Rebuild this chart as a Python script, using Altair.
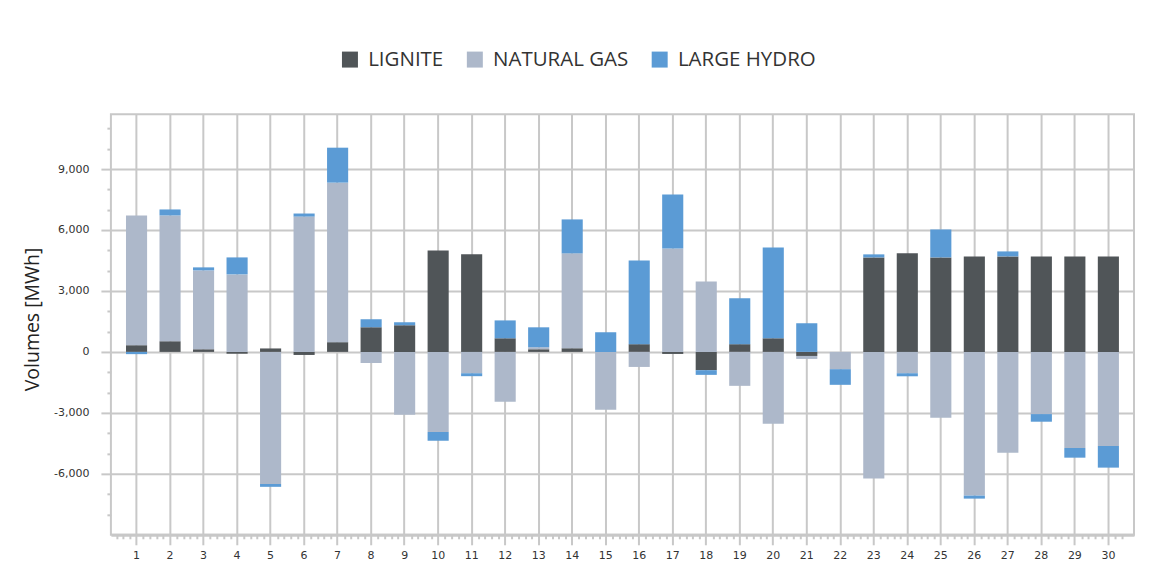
import altair as alt
import pandas as pd

days = list(range(1, 31))
series = ["LIGNITE", "NATURAL GAS", "LARGE HYDRO"]
colors = ["#505558", "#adb8ca", "#5b9bd5"]

lignite = [330, 525, 130, -90, 170, -150, 480, 1210, 1310, 4990,
           4800, 670, 130, 180, 0, 380, -100, -900, 380, 670,
           -200, 0, 4650, 4850, 4650, 4700, 4700, 4700, 4700, 4700]
natural_gas = [6380, 6190, 3880, 3815, -6500, 6660, 7850, -540, -3090, -3940,
               -1050, -2450, 100, 4670, -2850, -740, 5090, 3470, -1670, -3535,
               -145, -850, -6235, -1050, -3240, -7070, -4960, -3060, -4730, -4630]
large_hydro = [-110, 295, 150, 835, -140, 150, 1720, 395, 150, -430,
               -145, 880, 980, 1670, 970, 4120, 2650, -230, 2260, 4470,
               1410, -770, 150, -150, 1375, -150, 245, -375, -475, -1065]

y_major = [-6000, -3000, 0, 3000, 6000, 9000]
y_minor = [v for v in range(-8000, 12000, 1000) if v % 3000 != 0]

rows = []
for i, d in enumerate(days):
    for k, (s, vals) in enumerate(zip(series, [lignite, natural_gas, large_hydro])):
        rows.append({"Day": d, "Series": s, "Value": vals[i], "Order": k})
df = pd.DataFrame(rows)

grid_color = "#c8c8c8"
text_color = "#333333"
po, pi = 0.45, 0.37
off = po + (1 - pi) / 2
qdomain = [1 - off, 30 + off]
x_minor = [round(1 + 0.2 * j, 1) for j in range(-3, 148) if j % 5 != 0]
x_minor = [v for v in x_minor if qdomain[0] < v < qdomain[1]]

ydom = [-9000, 11700]

bars = alt.Chart(df).mark_bar().encode(
    x=alt.X("Day:O",
            scale=alt.Scale(paddingInner=pi, paddingOuter=po),
            axis=alt.Axis(title=None, labelAngle=0, grid=True, gridColor=grid_color,
                          gridWidth=2, ticks=True, tickSize=10, tickColor=grid_color,
                          tickWidth=2, labelPadding=5, domain=True, domainColor=grid_color,
                          domainWidth=3, labelFont="DejaVu Sans", labelFontSize=11,
                          labelColor=text_color)),
    y=alt.Y("Value:Q", stack="zero",
            scale=alt.Scale(domain=ydom, nice=False, zero=False),
            axis=alt.Axis(values=y_major,
                          labelExpr="replace(format(datum.value, ',.0f'), '\u2212', '-')",
                          title="Volumes [MWh]",
                          grid=True, gridColor=grid_color, gridWidth=2,
                          tickSize=10, tickColor=grid_color, tickWidth=2,
                          labelPadding=12, domain=False,
                          labelFont="DejaVu Sans", labelFontSize=11, labelColor=text_color,
                          titleFont="Open Sans", titleFontSize=19.5, titleFontWeight="normal",
                          titleColor="#222222", titleX=-78, titleY=205,
                          titleAlign="center", titleBaseline="middle", titleAngle=270)),
    color=alt.Color("Series:N", sort=series,
                    scale=alt.Scale(domain=series, range=colors),
                    legend=alt.Legend(title=None, orient="none", legendX=229, legendY=-65,
                                      direction="horizontal", symbolType="square",
                                      symbolSize=256, symbolStrokeWidth=0,
                                      labelFont="Open Sans", labelFontSize=20.5,
                                      labelColor=text_color, columnPadding=21,
                                      labelOffset=8)),
    order=alt.Order("Order:Q"),
)

minor = alt.Chart(df).mark_point(opacity=0).encode(
    x=alt.X("Day:Q", scale=alt.Scale(domain=qdomain, nice=False, zero=False),
            axis=alt.Axis(orient="bottom", values=x_minor, labels=False, domain=False,
                          grid=False, ticks=True, tickSize=4, tickColor=grid_color,
                          tickWidth=2, title=None)),
    y=alt.Y("Value:Q", scale=alt.Scale(domain=ydom, nice=False, zero=False),
            axis=alt.Axis(orient="left", values=y_minor, labels=False, domain=False,
                          grid=False, ticks=True, tickSize=4, tickColor=grid_color,
                          tickWidth=2, title=None)),
)

chart = alt.layer(bars, minor).resolve_scale(x="independent").resolve_axis(
    y="independent"
).properties(
    width=1024, height=421,
    autosize=alt.AutoSizeParams(type="none"),
    padding={"left": 103, "top": 106, "right": 10, "bottom": 40},
    background="white",
).configure_view(stroke=grid_color, strokeWidth=2)

chart.save("out.html", embed_options={"renderer": "svg", "actions": False})
